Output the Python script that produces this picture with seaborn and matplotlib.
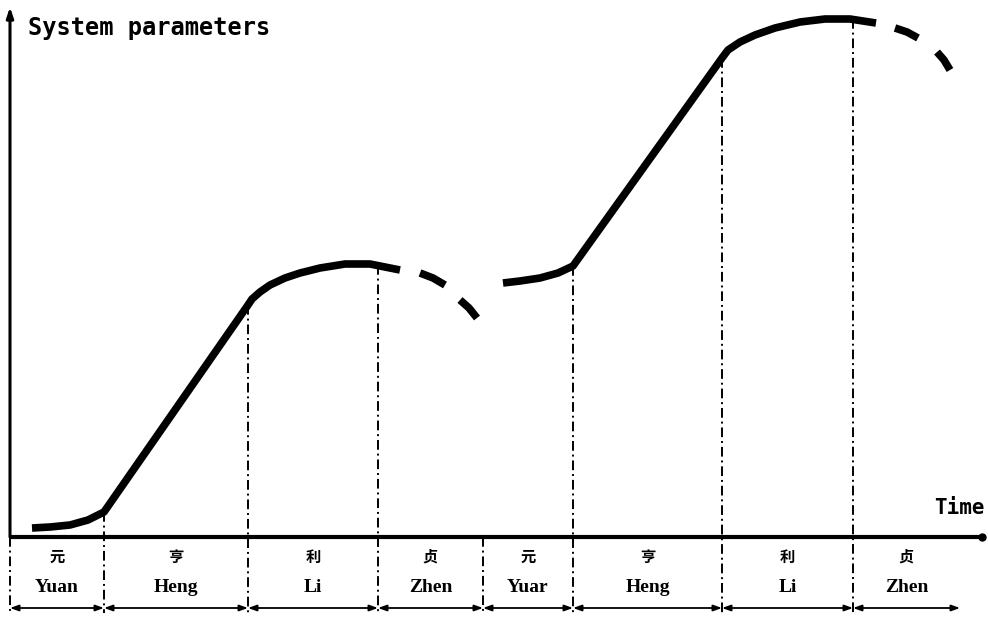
import numpy as np
import pandas as pd
import matplotlib
matplotlib.use("Agg")
import matplotlib.pyplot as plt
import seaborn as sns

# phase boundaries on the time axis (0 = origin)
BOUNDS = [0, 94, 238, 368, 473, 563, 712, 843, 950]
HANZI = ['元', '亨', '利', '贞', '元', '亨', '利', '贞']
PINYIN = ['Yuan', 'Heng', 'Li', 'Zhen', 'Yuar', 'Heng', 'Li', 'Zhen']

# curve pieces: (time, parameter value); each list is one drawn stroke
SEG_TIME = [
    [22, 40, 60, 78, 94, 238, 242, 250, 260, 275, 290, 310, 335, 360, 390],
    [410, 423, 435],
    [450, 459, 467],
    [493, 510, 530, 548, 563, 712, 718, 730, 745, 765, 790, 815, 840, 866],
    [885, 897, 908],
    [927, 934, 940],
]
SEG_VALUE = [
    [9, 10, 12, 17, 25, 232, 238, 245, 252, 259, 264, 269, 273, 273, 267],
    [264, 259, 252],
    [237, 229, 219],
    [254, 256, 259, 264, 271, 479, 487, 495, 502, 509, 515, 518, 518, 514],
    [509, 505, 499],
    [485, 477, 467],
]
# curve height where each vertical marker starts
MARK_TOP = [0, 25, 232, 272, 0, 271, 479, 518]

rows = []
for i, (ts, vs) in enumerate(zip(SEG_TIME, SEG_VALUE)):
    for t, v in zip(ts, vs):
        rows.append({'seg': i, 'time': t, 'value': v})
curve = pd.DataFrame(rows)

sns.set_style('white')
plt.rcParams['font.family'] = ['DejaVu Sans', 'Noto Sans CJK SC']
plt.rcParams['text.color'] = 'black'

fig = plt.figure(figsize=(9.88, 6.19), dpi=100)
ax = fig.add_axes([0, 0, 1, 1])
ax.set_xlim(-10, 978)
ax.set_ylim(-82, 537)
ax.axis('off')

sns.lineplot(data=curve, x='time', y='value', units='seg', estimator=None,
             sort=False, color='black', linewidth=5.5, ax=ax, legend=False,
             solid_capstyle='butt', solid_joinstyle='round')

# axes with arrows
ax.plot([0, 972], [0, 0], color='black', lw=3, solid_capstyle='butt')
ax.plot([972], [0], 'o', color='black', ms=5)
ax.annotate('', xy=(0, 530), xytext=(0, 0),
            arrowprops=dict(arrowstyle='-|>,head_length=0.6,head_width=0.2',
                            color='black', lw=2.2, shrinkA=0, shrinkB=0))

# dash-dot phase markers
row_y = -71
for i, b in enumerate(BOUNDS[:-1]):
    ax.plot([b, b], [MARK_TOP[i], row_y - 5], color='black', lw=1.4,
            linestyle=(0, (5, 2, 1, 2)))

# double arrows for each phase + labels
for i in range(len(PINYIN)):
    a, b = BOUNDS[i], BOUNDS[i + 1]
    ax.annotate('', xy=(b, row_y), xytext=(a, row_y),
                arrowprops=dict(arrowstyle='<|-|>,head_length=0.5,head_width=0.18',
                                color='black', lw=1.3, shrinkA=0, shrinkB=0))
    mid = (a + b) / 2
    ax.text(mid, -20, HANZI[i], ha='center', va='center', fontsize=11,
            family=['Noto Sans CJK SC'], fontweight='bold')
    ax.text(mid, -50, PINYIN[i], ha='center', va='center', fontsize=14,
            family='Liberation Serif', fontweight='bold')

ax.text(18, 509, 'System parameters', ha='left', va='center', fontsize=17,
        family='DejaVu Sans Mono', fontweight='bold')
ax.text(975, 29, 'Time', ha='right', va='center', fontsize=15,
        family='DejaVu Sans Mono', fontweight='bold')

fig.savefig('out.png', dpi=100)
